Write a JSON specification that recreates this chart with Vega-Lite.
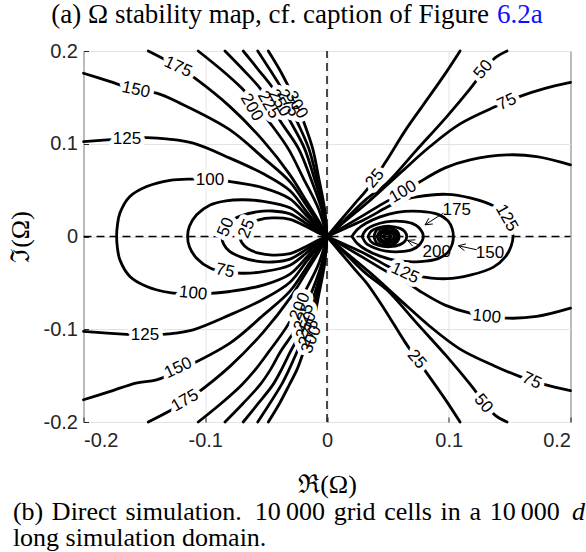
{
  "$schema": "https://vega.github.io/schema/vega-lite/v6.json",
  "width": 487,
  "height": 371,
  "autosize": {"type": "none"},
  "padding": {"left": 83.5, "top": 51, "right": 15.5, "bottom": 130},
  "background": "white",
  "config": {
    "view": {"stroke": "#262626", "strokeWidth": 1},
    "axis": {
      "grid": true, "gridColor": "#e3e3e3", "gridWidth": 1,
      "ticks": true, "tickSize": -5, "tickColor": "#262626", "tickWidth": 1, "domain": false,
      "labelFont": "Liberation Sans", "labelFontSize": 20, "labelColor": "#262626",
      "titleFont": "Liberation Serif, DejaVu Serif", "titleFontSize": 26, "titleFontWeight": "normal", "titleColor": "black"
    }
  },
  "encoding": {
    "x": {"field": "x", "type": "quantitative",
          "scale": {"domain": [-0.2, 0.2], "nice": false, "zero": false},
          "axis": {"values": [-0.2, -0.1, 0, 0.1, 0.2], "labelExpr": "'' + datum.value", "labelPadding": 13, "title": "ℜ(Ω)", "titlePadding": 21}},
    "y": {"field": "y", "type": "quantitative",
          "scale": {"domain": [-0.2, 0.2], "nice": false, "zero": false},
          "axis": {"values": [-0.2, -0.1, 0, 0.1, 0.2], "labelExpr": "'' + datum.value", "labelPadding": 11, "title": "ℑ(Ω)", "titlePadding": 10}}
  },
  "datasets": {
    "zero": [
      {"k": "v", "x": 0, "y": -0.2}, {"k": "v", "x": 0, "y": 0.2},
      {"k": "h", "x": -0.2, "y": 0}, {"k": "h", "x": 0.2, "y": 0}
    ],
    "lines": [
      {"k":"L25","x":0,"y":0},{"k":"L25","x":-0.0074,"y":0.004},{"k":"L25","x":-0.0167,"y":0.0105},{"k":"L25","x":-0.0304,"y":0.0185},{"k":"L25","x":-0.045,"y":0.02},{"k":"L25","x":-0.056,"y":0.018},{"k":"L25","x":-0.065,"y":0.013},{"k":"L25","x":-0.07,"y":0.0065},{"k":"L25","x":-0.0715,"y":0},{"k":"L25","x":-0.07,"y":-0.0065},{"k":"L25","x":-0.065,"y":-0.013},{"k":"L25","x":-0.056,"y":-0.018},{"k":"L25","x":-0.045,"y":-0.02},{"k":"L25","x":-0.0304,"y":-0.0185},{"k":"L25","x":-0.0167,"y":-0.0105},{"k":"L25","x":-0.0074,"y":-0.004},{"k":"L25","x":0,"y":0},

      {"k":"L50","x":0,"y":0},{"k":"L50","x":-0.0074,"y":0.0056},{"k":"L50","x":-0.0167,"y":0.0137},{"k":"L50","x":-0.0304,"y":0.0244},{"k":"L50","x":-0.045,"y":0.0275},{"k":"L50","x":-0.058,"y":0.0265},{"k":"L50","x":-0.07,"y":0.0225},{"k":"L50","x":-0.08,"y":0.016},{"k":"L50","x":-0.085,"y":0.008},{"k":"L50","x":-0.0863,"y":0},{"k":"L50","x":-0.085,"y":-0.008},{"k":"L50","x":-0.08,"y":-0.016},{"k":"L50","x":-0.07,"y":-0.0225},{"k":"L50","x":-0.058,"y":-0.0265},{"k":"L50","x":-0.045,"y":-0.0275},{"k":"L50","x":-0.0304,"y":-0.0244},{"k":"L50","x":-0.0167,"y":-0.0137},{"k":"L50","x":-0.0074,"y":-0.0056},{"k":"L50","x":0,"y":0},

      {"k":"L75","x":0,"y":0},{"k":"L75","x":-0.0074,"y":0.0072},{"k":"L75","x":-0.0167,"y":0.0175},{"k":"L75","x":-0.0304,"y":0.0309},{"k":"L75","x":-0.0523,"y":0.0379},{"k":"L75","x":-0.068,"y":0.0396},{"k":"L75","x":-0.083,"y":0.0385},{"k":"L75","x":-0.096,"y":0.034},{"k":"L75","x":-0.1071,"y":0.0234},{"k":"L75","x":-0.113,"y":0.011},{"k":"L75","x":-0.1145,"y":0},{"k":"L75","x":-0.113,"y":-0.011},{"k":"L75","x":-0.1071,"y":-0.0234},{"k":"L75","x":-0.096,"y":-0.034},{"k":"L75","x":-0.083,"y":-0.0385},{"k":"L75","x":-0.068,"y":-0.0396},{"k":"L75","x":-0.0523,"y":-0.0379},{"k":"L75","x":-0.0304,"y":-0.0309},{"k":"L75","x":-0.0167,"y":-0.0175},{"k":"L75","x":-0.0074,"y":-0.0072},{"k":"L75","x":0,"y":0},

      {"k":"L100","x":0,"y":0},{"k":"L100","x":-0.0074,"y":0.0094},{"k":"L100","x":-0.0167,"y":0.0223},{"k":"L100","x":-0.0304,"y":0.0406},{"k":"L100","x":-0.0523,"y":0.0525},{"k":"L100","x":-0.0797,"y":0.0593},{"k":"L100","x":-0.0961,"y":0.0613},{"k":"L100","x":-0.1126,"y":0.0619},{"k":"L100","x":-0.129,"y":0.0606},{"k":"L100","x":-0.1481,"y":0.0539},{"k":"L100","x":-0.1619,"y":0.0431},{"k":"L100","x":-0.1701,"y":0.0252},{"k":"L100","x":-0.1721,"y":0.0126},{"k":"L100","x":-0.1728,"y":0},{"k":"L100","x":-0.1721,"y":-0.0126},{"k":"L100","x":-0.1701,"y":-0.0252},{"k":"L100","x":-0.1619,"y":-0.0431},{"k":"L100","x":-0.1481,"y":-0.0539},{"k":"L100","x":-0.129,"y":-0.0606},{"k":"L100","x":-0.1126,"y":-0.0619},{"k":"L100","x":-0.0961,"y":-0.0613},{"k":"L100","x":-0.0797,"y":-0.0593},{"k":"L100","x":-0.0523,"y":-0.0525},{"k":"L100","x":-0.0304,"y":-0.0406},{"k":"L100","x":-0.0167,"y":-0.0223},{"k":"L100","x":-0.0074,"y":-0.0094},{"k":"L100","x":0,"y":0},

      {"k":"L125u","x":-0.2,"y":0.1024},{"k":"L125u","x":-0.1646,"y":0.1055},{"k":"L125u","x":-0.1481,"y":0.1065},{"k":"L125u","x":-0.13,"y":0.105},{"k":"L125u","x":-0.1099,"y":0.1006},{"k":"L125u","x":-0.0797,"y":0.0845},{"k":"L125u","x":-0.0523,"y":0.0676},{"k":"L125u","x":-0.0304,"y":0.0493},{"k":"L125u","x":-0.0167,"y":0.0266},{"k":"L125u","x":-0.0074,"y":0.0115},{"k":"L125u","x":0,"y":0},
      {"k":"L125l","x":-0.2,"y":-0.1024},{"k":"L125l","x":-0.1646,"y":-0.1055},{"k":"L125l","x":-0.1481,"y":-0.1065},{"k":"L125l","x":-0.13,"y":-0.105},{"k":"L125l","x":-0.1099,"y":-0.1006},{"k":"L125l","x":-0.0797,"y":-0.0845},{"k":"L125l","x":-0.0523,"y":-0.0676},{"k":"L125l","x":-0.0304,"y":-0.0493},{"k":"L125l","x":-0.0167,"y":-0.0266},{"k":"L125l","x":-0.0074,"y":-0.0115},{"k":"L125l","x":0,"y":0},

      {"k":"L150u","x":-0.2,"y":0.176},{"k":"L150u","x":-0.178,"y":0.167},{"k":"L150u","x":-0.157,"y":0.158},{"k":"L150u","x":-0.14,"y":0.1545},{"k":"L150u","x":-0.1208,"y":0.1438},{"k":"L150u","x":-0.0797,"y":0.115},{"k":"L150u","x":-0.0523,"y":0.0848},{"k":"L150u","x":-0.0304,"y":0.0589},{"k":"L150u","x":-0.0167,"y":0.0331},{"k":"L150u","x":-0.0074,"y":0.0148},{"k":"L150u","x":0,"y":0},
      {"k":"L150l","x":-0.2,"y":-0.176},{"k":"L150l","x":-0.178,"y":-0.167},{"k":"L150l","x":-0.157,"y":-0.158},{"k":"L150l","x":-0.14,"y":-0.1545},{"k":"L150l","x":-0.1208,"y":-0.1438},{"k":"L150l","x":-0.0797,"y":-0.115},{"k":"L150l","x":-0.0523,"y":-0.0848},{"k":"L150l","x":-0.0304,"y":-0.0589},{"k":"L150l","x":-0.0167,"y":-0.0331},{"k":"L150l","x":-0.0074,"y":-0.0148},{"k":"L150l","x":0,"y":0},

      {"k":"L175u","x":-0.1468,"y":0.2},{"k":"L175u","x":-0.1224,"y":0.183},{"k":"L175u","x":-0.1085,"y":0.1707},{"k":"L175u","x":-0.0797,"y":0.14},{"k":"L175u","x":-0.0523,"y":0.1031},{"k":"L175u","x":-0.0304,"y":0.0665},{"k":"L175u","x":-0.0167,"y":0.0377},{"k":"L175u","x":-0.0074,"y":0.018},{"k":"L175u","x":0,"y":0},
      {"k":"L175l","x":-0.1468,"y":-0.2},{"k":"L175l","x":-0.1224,"y":-0.183},{"k":"L175l","x":-0.1085,"y":-0.1707},{"k":"L175l","x":-0.0797,"y":-0.14},{"k":"L175l","x":-0.0523,"y":-0.1031},{"k":"L175l","x":-0.0304,"y":-0.0665},{"k":"L175l","x":-0.0167,"y":-0.0377},{"k":"L175l","x":-0.0074,"y":-0.018},{"k":"L175l","x":0,"y":0},

      {"k":"L200u","x":-0.1058,"y":0.2},{"k":"L200u","x":-0.087,"y":0.18},{"k":"L200u","x":-0.0701,"y":0.16},{"k":"L200u","x":-0.0585,"y":0.143},{"k":"L200u","x":-0.0482,"y":0.125},{"k":"L200u","x":-0.032,"y":0.095},{"k":"L200u","x":-0.0195,"y":0.063},{"k":"L200u","x":-0.007,"y":0.03},{"k":"L200u","x":0,"y":0},
      {"k":"L200l","x":-0.1058,"y":-0.2},{"k":"L200l","x":-0.087,"y":-0.18},{"k":"L200l","x":-0.0701,"y":-0.16},{"k":"L200l","x":-0.0585,"y":-0.143},{"k":"L200l","x":-0.0482,"y":-0.125},{"k":"L200l","x":-0.032,"y":-0.095},{"k":"L200l","x":-0.0195,"y":-0.063},{"k":"L200l","x":-0.007,"y":-0.03},{"k":"L200l","x":0,"y":0},
      {"k":"L225u","x":-0.0838,"y":0.2},{"k":"L225u","x":-0.069,"y":0.18},{"k":"L225u","x":-0.0551,"y":0.16},{"k":"L225u","x":-0.0462,"y":0.143},{"k":"L225u","x":-0.0386,"y":0.125},{"k":"L225u","x":-0.0235,"y":0.095},{"k":"L225u","x":-0.0135,"y":0.063},{"k":"L225u","x":-0.0045,"y":0.03},{"k":"L225u","x":0,"y":0},
      {"k":"L225l","x":-0.0838,"y":-0.2},{"k":"L225l","x":-0.069,"y":-0.18},{"k":"L225l","x":-0.0551,"y":-0.16},{"k":"L225l","x":-0.0462,"y":-0.143},{"k":"L225l","x":-0.0386,"y":-0.125},{"k":"L225l","x":-0.0235,"y":-0.095},{"k":"L225l","x":-0.0135,"y":-0.063},{"k":"L225l","x":-0.0045,"y":-0.03},{"k":"L225l","x":0,"y":0},
      {"k":"L250u","x":-0.0688,"y":0.2},{"k":"L250u","x":-0.0565,"y":0.18},{"k":"L250u","x":-0.0445,"y":0.16},{"k":"L250u","x":-0.0372,"y":0.143},{"k":"L250u","x":-0.0304,"y":0.125},{"k":"L250u","x":-0.0185,"y":0.095},{"k":"L250u","x":-0.0105,"y":0.063},{"k":"L250u","x":-0.0033,"y":0.03},{"k":"L250u","x":0,"y":0},
      {"k":"L250l","x":-0.0688,"y":-0.2},{"k":"L250l","x":-0.0565,"y":-0.18},{"k":"L250l","x":-0.0445,"y":-0.16},{"k":"L250l","x":-0.0372,"y":-0.143},{"k":"L250l","x":-0.0304,"y":-0.125},{"k":"L250l","x":-0.0185,"y":-0.095},{"k":"L250l","x":-0.0105,"y":-0.063},{"k":"L250l","x":-0.0033,"y":-0.03},{"k":"L250l","x":0,"y":0},
      {"k":"L275u","x":-0.0569,"y":0.2},{"k":"L275u","x":-0.047,"y":0.18},{"k":"L275u","x":-0.0375,"y":0.16},{"k":"L275u","x":-0.031,"y":0.143},{"k":"L275u","x":-0.0249,"y":0.125},{"k":"L275u","x":-0.015,"y":0.095},{"k":"L275u","x":-0.0085,"y":0.063},{"k":"L275u","x":-0.0026,"y":0.03},{"k":"L275u","x":0,"y":0},
      {"k":"L275l","x":-0.0569,"y":-0.2},{"k":"L275l","x":-0.047,"y":-0.18},{"k":"L275l","x":-0.0375,"y":-0.16},{"k":"L275l","x":-0.031,"y":-0.143},{"k":"L275l","x":-0.0249,"y":-0.125},{"k":"L275l","x":-0.015,"y":-0.095},{"k":"L275l","x":-0.0085,"y":-0.063},{"k":"L275l","x":-0.0026,"y":-0.03},{"k":"L275l","x":0,"y":0},
      {"k":"L300u","x":-0.0482,"y":0.2},{"k":"L300u","x":-0.039,"y":0.18},{"k":"L300u","x":-0.031,"y":0.16},{"k":"L300u","x":-0.0245,"y":0.143},{"k":"L300u","x":-0.0195,"y":0.125},{"k":"L300u","x":-0.0118,"y":0.095},{"k":"L300u","x":-0.0068,"y":0.063},{"k":"L300u","x":-0.002,"y":0.03},{"k":"L300u","x":0,"y":0},
      {"k":"L300l","x":-0.0482,"y":-0.2},{"k":"L300l","x":-0.039,"y":-0.18},{"k":"L300l","x":-0.031,"y":-0.16},{"k":"L300l","x":-0.0245,"y":-0.143},{"k":"L300l","x":-0.0195,"y":-0.125},{"k":"L300l","x":-0.0118,"y":-0.095},{"k":"L300l","x":-0.0068,"y":-0.063},{"k":"L300l","x":-0.002,"y":-0.03},{"k":"L300l","x":0,"y":0},

      {"k":"R25u","x":0,"y":0},{"k":"R25u","x":0.0107,"y":0.0167},{"k":"R25u","x":0.023,"y":0.0358},{"k":"R25u","x":0.0326,"y":0.0503},{"k":"R25u","x":0.0477,"y":0.0794},{"k":"R25u","x":0.0641,"y":0.1139},{"k":"R25u","x":0.0791,"y":0.1419},{"k":"R25u","x":0.097,"y":0.1753},{"k":"R25u","x":0.1093,"y":0.2},
      {"k":"R25l","x":0,"y":0},{"k":"R25l","x":0.0107,"y":-0.0167},{"k":"R25l","x":0.023,"y":-0.0358},{"k":"R25l","x":0.0326,"y":-0.0503},{"k":"R25l","x":0.0477,"y":-0.0794},{"k":"R25l","x":0.0641,"y":-0.1139},{"k":"R25l","x":0.0791,"y":-0.1419},{"k":"R25l","x":0.097,"y":-0.1753},{"k":"R25l","x":0.1093,"y":-0.2},
      {"k":"R50u","x":0,"y":0},{"k":"R50u","x":0.0148,"y":0.0181},{"k":"R50u","x":0.0312,"y":0.039},{"k":"R50u","x":0.0491,"y":0.0575},{"k":"R50u","x":0.0737,"y":0.0934},{"k":"R50u","x":0.0984,"y":0.1293},{"k":"R50u","x":0.1175,"y":0.1592},{"k":"R50u","x":0.1282,"y":0.1775},{"k":"R50u","x":0.138,"y":0.1926},{"k":"R50u","x":0.1479,"y":0.2},
      {"k":"R50l","x":0,"y":0},{"k":"R50l","x":0.0148,"y":-0.0181},{"k":"R50l","x":0.0312,"y":-0.039},{"k":"R50l","x":0.0491,"y":-0.0575},{"k":"R50l","x":0.0737,"y":-0.0934},{"k":"R50l","x":0.0984,"y":-0.1293},{"k":"R50l","x":0.1175,"y":-0.1592},{"k":"R50l","x":0.1282,"y":-0.1775},{"k":"R50l","x":0.138,"y":-0.1926},{"k":"R50l","x":0.1479,"y":-0.2},
      {"k":"R75u","x":0,"y":0},{"k":"R75u","x":0.0148,"y":0.0164},{"k":"R75u","x":0.0353,"y":0.039},{"k":"R75u","x":0.06,"y":0.0683},{"k":"R75u","x":0.0846,"y":0.097},{"k":"R75u","x":0.1093,"y":0.1214},{"k":"R75u","x":0.138,"y":0.1398},{"k":"R75u","x":0.1586,"y":0.1511},{"k":"R75u","x":0.1791,"y":0.1597},{"k":"R75u","x":0.2,"y":0.1662},
      {"k":"R75l","x":0,"y":0},{"k":"R75l","x":0.0148,"y":-0.0164},{"k":"R75l","x":0.0353,"y":-0.039},{"k":"R75l","x":0.06,"y":-0.0683},{"k":"R75l","x":0.0846,"y":-0.097},{"k":"R75l","x":0.1093,"y":-0.1214},{"k":"R75l","x":0.138,"y":-0.1398},{"k":"R75l","x":0.1586,"y":-0.1511},{"k":"R75l","x":0.1791,"y":-0.1597},{"k":"R75l","x":0.2,"y":-0.1662},
      {"k":"R100u","x":0,"y":0},{"k":"R100u","x":0.0148,"y":0.0112},{"k":"R100u","x":0.0312,"y":0.0239},{"k":"R100u","x":0.0491,"y":0.0379},{"k":"R100u","x":0.0641,"y":0.0482},{"k":"R100u","x":0.0764,"y":0.059},{"k":"R100u","x":0.097,"y":0.074},{"k":"R100u","x":0.1175,"y":0.0826},{"k":"R100u","x":0.1477,"y":0.088},{"k":"R100u","x":0.1723,"y":0.0862},{"k":"R100u","x":0.2,"y":0.0773},
      {"k":"R100l","x":0,"y":0},{"k":"R100l","x":0.0148,"y":-0.0112},{"k":"R100l","x":0.0312,"y":-0.0239},{"k":"R100l","x":0.0491,"y":-0.0379},{"k":"R100l","x":0.0641,"y":-0.0482},{"k":"R100l","x":0.0764,"y":-0.059},{"k":"R100l","x":0.097,"y":-0.074},{"k":"R100l","x":0.1175,"y":-0.0826},{"k":"R100l","x":0.1477,"y":-0.088},{"k":"R100l","x":0.1723,"y":-0.0862},{"k":"R100l","x":0.2,"y":-0.0773},

      {"k":"R125","x":0,"y":0},{"k":"R125","x":0.0148,"y":0.0086},{"k":"R125","x":0.0312,"y":0.0185},{"k":"R125","x":0.0491,"y":0.0315},{"k":"R125","x":0.06,"y":0.0385},{"k":"R125","x":0.0737,"y":0.0428},{"k":"R125","x":0.0984,"y":0.0455},{"k":"R125","x":0.1175,"y":0.0417},{"k":"R125","x":0.1367,"y":0.033},{"k":"R125","x":0.1463,"y":0.0223},{"k":"R125","x":0.1512,"y":0.0105},{"k":"R125","x":0.1528,"y":0},{"k":"R125","x":0.1512,"y":-0.0105},{"k":"R125","x":0.1463,"y":-0.0223},{"k":"R125","x":0.1367,"y":-0.033},{"k":"R125","x":0.1175,"y":-0.0417},{"k":"R125","x":0.0984,"y":-0.0455},{"k":"R125","x":0.0737,"y":-0.0428},{"k":"R125","x":0.06,"y":-0.0385},{"k":"R125","x":0.0491,"y":-0.0315},{"k":"R125","x":0.0312,"y":-0.0185},{"k":"R125","x":0.0148,"y":-0.0086},{"k":"R125","x":0,"y":0},

      {"k":"R150","x":0.0205,"y":0},{"k":"R150","x":0.0247,"y":0.0072},{"k":"R150","x":0.032,"y":0.0142},{"k":"R150","x":0.0436,"y":0.0212},{"k":"R150","x":0.0575,"y":0.0261},{"k":"R150","x":0.0764,"y":0.0271},{"k":"R150","x":0.0912,"y":0.0239},{"k":"R150","x":0.0994,"y":0.0169},{"k":"R150","x":0.1028,"y":0.0085},{"k":"R150","x":0.1038,"y":0},{"k":"R150","x":0.1028,"y":-0.0085},{"k":"R150","x":0.0994,"y":-0.0169},{"k":"R150","x":0.0912,"y":-0.0239},{"k":"R150","x":0.0764,"y":-0.0271},{"k":"R150","x":0.0575,"y":-0.0261},{"k":"R150","x":0.0436,"y":-0.0212},{"k":"R150","x":0.032,"y":-0.0142},{"k":"R150","x":0.0247,"y":-0.0072},{"k":"R150","x":0.0205,"y":0},

      {"k":"R175","x":0.0288,"y":0},{"k":"R175","x":0.0321,"y":0.0072},{"k":"R175","x":0.0386,"y":0.0121},{"k":"R175","x":0.0485,"y":0.0158},{"k":"R175","x":0.06,"y":0.0164},{"k":"R175","x":0.0699,"y":0.0142},{"k":"R175","x":0.0756,"y":0.0094},{"k":"R175","x":0.0791,"y":0},{"k":"R175","x":0.0756,"y":-0.0094},{"k":"R175","x":0.0699,"y":-0.0142},{"k":"R175","x":0.06,"y":-0.0164},{"k":"R175","x":0.0485,"y":-0.0158},{"k":"R175","x":0.0386,"y":-0.0121},{"k":"R175","x":0.0321,"y":-0.0072},{"k":"R175","x":0.0288,"y":0},

      {"k":"R200","x":0.0337,"y":0},{"k":"R200","x":0.0362,"y":0.0056},{"k":"R200","x":0.0419,"y":0.0094},{"k":"R200","x":0.0518,"y":0.011},{"k":"R200","x":0.06,"y":0.0088},{"k":"R200","x":0.0641,"y":0.0051},{"k":"R200","x":0.0655,"y":0},{"k":"R200","x":0.0641,"y":-0.0051},{"k":"R200","x":0.06,"y":-0.0088},{"k":"R200","x":0.0518,"y":-0.011},{"k":"R200","x":0.0419,"y":-0.0094},{"k":"R200","x":0.0362,"y":-0.0056},{"k":"R200","x":0.0337,"y":0},

      {"k":"R225","x":0.0386,"y":0},{"k":"R225","x":0.0411,"y":0.0072},{"k":"R225","x":0.0493,"y":0.0094},{"k":"R225","x":0.0567,"y":0.0067},{"k":"R225","x":0.0592,"y":0},{"k":"R225","x":0.0567,"y":-0.0067},{"k":"R225","x":0.0493,"y":-0.0094},{"k":"R225","x":0.0411,"y":-0.0072},{"k":"R225","x":0.0386,"y":0},
      {"k":"R250","x":0.0411,"y":0},{"k":"R250","x":0.0436,"y":0.0056},{"k":"R250","x":0.0493,"y":0.0067},{"k":"R250","x":0.0551,"y":0.0051},{"k":"R250","x":0.0575,"y":0},{"k":"R250","x":0.0551,"y":-0.0051},{"k":"R250","x":0.0493,"y":-0.0067},{"k":"R250","x":0.0436,"y":-0.0056},{"k":"R250","x":0.0411,"y":0},
      {"k":"R275","x":0.0432,"y":0},{"k":"R275","x":0.0452,"y":0.004},{"k":"R275","x":0.0493,"y":0.0045},{"k":"R275","x":0.0534,"y":0.0034},{"k":"R275","x":0.0555,"y":0},{"k":"R275","x":0.0534,"y":-0.0034},{"k":"R275","x":0.0493,"y":-0.0045},{"k":"R275","x":0.0452,"y":-0.004},{"k":"R275","x":0.0432,"y":0},
      {"k":"R300","x":0.0452,"y":0},{"k":"R300","x":0.0493,"y":0.0027},{"k":"R300","x":0.053,"y":0},{"k":"R300","x":0.0493,"y":-0.0027},{"k":"R300","x":0.0452,"y":0}
    ],
    "labels": [
      {"id":"UL175","t":"175","x":-0.1224,"y":0.1829},
      {"id":"UL150","t":"150","x":-0.1569,"y":0.1581},
      {"id":"UL125","t":"125","x":-0.1643,"y":0.105},
      {"id":"UL100","t":"100","x":-0.0961,"y":0.0605},
      {"id":"UL50","t":"50","x":-0.083,"y":0.01},
      {"id":"UL25","t":"25","x":-0.066,"y":0.0085},
      {"id":"UL200","t":"200","x":-0.0619,"y":0.1392},
      {"id":"UL225","t":"225","x":-0.048,"y":0.142},
      {"id":"UL250","t":"250","x":-0.039,"y":0.144},
      {"id":"UL275","t":"275","x":-0.0318,"y":0.144},
      {"id":"UL300","t":"300","x":-0.025,"y":0.142},
      {"id":"LL75","t":"75","x":-0.0838,"y":-0.037},
      {"id":"LL100","t":"100","x":-0.1099,"y":-0.0612},
      {"id":"LL125","t":"125","x":-0.1495,"y":-0.1065},
      {"id":"LL150","t":"150","x":-0.1222,"y":-0.1418},
      {"id":"LL175","t":"175","x":-0.1167,"y":-0.177},
      {"id":"LL200","t":"200","x":-0.0222,"y":-0.0754},
      {"id":"LL225","t":"225","x":-0.019,"y":-0.087},
      {"id":"LL250","t":"250","x":-0.017,"y":-0.096},
      {"id":"LL275","t":"275","x":-0.015,"y":-0.104},
      {"id":"LL300","t":"300","x":-0.0128,"y":-0.111},
      {"id":"UR25","t":"25","x":0.0394,"y":0.0625},
      {"id":"UR50","t":"50","x":0.1284,"y":0.18},
      {"id":"UR75","t":"75","x":0.1477,"y":0.145},
      {"id":"UR100","t":"100","x":0.0624,"y":0.0482},
      {"id":"UR125","t":"125","x":0.1475,"y":0.02},
      {"id":"LR25","t":"25","x":0.0737,"y":-0.1325},
      {"id":"LR50","t":"50","x":0.1284,"y":-0.18},
      {"id":"LR75","t":"75","x":0.1682,"y":-0.1555},
      {"id":"LR100","t":"100","x":0.1312,"y":-0.0862},
      {"id":"LR125","t":"125","x":0.0641,"y":-0.0395},
      {"id":"UR175","t":"175","x":0.1066,"y":0.0288},
      {"id":"LR150","t":"150","x":0.1339,"y":-0.0179},
      {"id":"LR200","t":"200","x":0.0901,"y":-0.0165}
    ],
    "arrows": [
      {"a":"s175","x":0.0956,"y":0.0252},{"a":"s175","x":0.0805,"y":0.0126},
      {"a":"h175","x":0.0869,"y":0.0135},{"a":"h175","x":0.0805,"y":0.0126},{"a":"h175","x":0.0838,"y":0.0198},
      {"a":"s150","x":0.123,"y":-0.0143},{"a":"s150","x":0.1079,"y":-0.01},
      {"a":"h150","x":0.1141,"y":-0.008},{"a":"h150","x":0.1079,"y":-0.01},{"a":"h150","x":0.1129,"y":-0.0153},
      {"a":"s200","x":0.0764,"y":-0.0095},{"a":"s200","x":0.0661,"y":-0.0041},
      {"a":"h200","x":0.0726,"y":-0.0036},{"a":"h200","x":0.0661,"y":-0.0041},{"a":"h200","x":0.0704,"y":-0.0105}
    ],
    "captions": [
      {"id":"a1","t":"(a) Ω stability map, cf. caption of Figure","x":0.1331,"y":0.2388},
      {"id":"a2","t":"6.2a","x":0.1397,"y":0.2388},
      {"id":"b1","t":"(b)\u2004Direct\u2004simulation.\u200210\u2009000\u2004grid\u2004cells\u2004in\u2004a\u200410\u2009000","x":-0.258,"y":-0.2975},
      {"id":"b1d","t":"d","x":0.2013,"y":-0.2975},
      {"id":"b2","t":"long simulation domain.","x":-0.258,"y":-0.3256}
    ]
  },
  "layer": [
    {"data": {"name": "zero"},
     "mark": {"type": "line", "color": "black", "strokeWidth": 1.4, "strokeDash": [8, 5]},
     "encoding": {"detail": {"field": "k"}, "order": {"value": null}}},
    {"data": {"name": "lines"},
     "mark": {"type": "line", "color": "black", "strokeWidth": 2.8, "interpolate": "catmull-rom", "strokeCap": "round", "strokeJoin": "round"},
     "encoding": {"detail": {"field": "k"}, "order": {"value": null}}},

    {"data": {"name": "labels"}, "transform": [{"filter": {"field": "id", "oneOf": ["UL125", "UL100", "LL125"]}}],
     "mark": {"type": "text", "angle": 0, "font": "Liberation Sans", "fontSize": 17, "fill": "white", "stroke": "white", "strokeWidth": 9, "strokeJoin": "round"},
     "encoding": {"text": {"field": "t"}}},
    {"data": {"name": "labels"}, "transform": [{"filter": {"field": "id", "oneOf": ["LL100", "LR100"]}}],
     "mark": {"type": "text", "angle": 6, "font": "Liberation Sans", "fontSize": 17, "fill": "white", "stroke": "white", "strokeWidth": 9, "strokeJoin": "round"},
     "encoding": {"text": {"field": "t"}}},
    {"data": {"name": "labels"}, "transform": [{"filter": {"field": "id", "oneOf": ["UL150", "LL75"]}}],
     "mark": {"type": "text", "angle": 12, "font": "Liberation Sans", "fontSize": 17, "fill": "white", "stroke": "white", "strokeWidth": 9, "strokeJoin": "round"},
     "encoding": {"text": {"field": "t"}}},
    {"data": {"name": "labels"}, "transform": [{"filter": {"field": "id", "oneOf": ["UL175", "LR75", "LR125"]}}],
     "mark": {"type": "text", "angle": 25, "font": "Liberation Sans", "fontSize": 17, "fill": "white", "stroke": "white", "strokeWidth": 9, "strokeJoin": "round"},
     "encoding": {"text": {"field": "t"}}},
    {"data": {"name": "labels"}, "transform": [{"filter": {"field": "id", "oneOf": ["UR75", "LL150"]}}],
     "mark": {"type": "text", "angle": -25, "font": "Liberation Sans", "fontSize": 17, "fill": "white", "stroke": "white", "strokeWidth": 9, "strokeJoin": "round"},
     "encoding": {"text": {"field": "t"}}},
    {"data": {"name": "labels"}, "transform": [{"filter": {"field": "id", "oneOf": ["LL175", "UR100"]}}],
     "mark": {"type": "text", "angle": -30, "font": "Liberation Sans", "fontSize": 17, "fill": "white", "stroke": "white", "strokeWidth": 9, "strokeJoin": "round"},
     "encoding": {"text": {"field": "t"}}},
    {"data": {"name": "labels"}, "transform": [{"filter": {"field": "id", "oneOf": ["UR25", "UR50"]}}],
     "mark": {"type": "text", "angle": -50, "font": "Liberation Sans", "fontSize": 17, "fill": "white", "stroke": "white", "strokeWidth": 9, "strokeJoin": "round"},
     "encoding": {"text": {"field": "t"}}},
    {"data": {"name": "labels"}, "transform": [{"filter": {"field": "id", "oneOf": ["LR25", "LR50"]}}],
     "mark": {"type": "text", "angle": 50, "font": "Liberation Sans", "fontSize": 17, "fill": "white", "stroke": "white", "strokeWidth": 9, "strokeJoin": "round"},
     "encoding": {"text": {"field": "t"}}},
    {"data": {"name": "labels"}, "transform": [{"filter": {"field": "id", "oneOf": ["UL200", "UL225", "UL250", "UL275", "UL300", "UR125"]}}],
     "mark": {"type": "text", "angle": 60, "font": "Liberation Sans", "fontSize": 17, "fill": "white", "stroke": "white", "strokeWidth": 9, "strokeJoin": "round"},
     "encoding": {"text": {"field": "t"}}},
    {"data": {"name": "labels"}, "transform": [{"filter": {"field": "id", "oneOf": ["UL50", "UL25", "LL200", "LL225", "LL250", "LL275", "LL300"]}}],
     "mark": {"type": "text", "angle": -68, "font": "Liberation Sans", "fontSize": 17, "fill": "white", "stroke": "white", "strokeWidth": 9, "strokeJoin": "round"},
     "encoding": {"text": {"field": "t"}}},

    {"data": {"name": "labels"}, "transform": [{"filter": {"field": "id", "oneOf": ["UL125", "UL100", "LL125", "UR175", "LR150", "LR200"]}}],
     "mark": {"type": "text", "angle": 0, "font": "Liberation Sans", "fontSize": 17, "fill": "black"},
     "encoding": {"text": {"field": "t"}}},
    {"data": {"name": "labels"}, "transform": [{"filter": {"field": "id", "oneOf": ["LL100", "LR100"]}}],
     "mark": {"type": "text", "angle": 6, "font": "Liberation Sans", "fontSize": 17, "fill": "black"},
     "encoding": {"text": {"field": "t"}}},
    {"data": {"name": "labels"}, "transform": [{"filter": {"field": "id", "oneOf": ["UL150", "LL75"]}}],
     "mark": {"type": "text", "angle": 12, "font": "Liberation Sans", "fontSize": 17, "fill": "black"},
     "encoding": {"text": {"field": "t"}}},
    {"data": {"name": "labels"}, "transform": [{"filter": {"field": "id", "oneOf": ["UL175", "LR75", "LR125"]}}],
     "mark": {"type": "text", "angle": 25, "font": "Liberation Sans", "fontSize": 17, "fill": "black"},
     "encoding": {"text": {"field": "t"}}},
    {"data": {"name": "labels"}, "transform": [{"filter": {"field": "id", "oneOf": ["UR75", "LL150"]}}],
     "mark": {"type": "text", "angle": -25, "font": "Liberation Sans", "fontSize": 17, "fill": "black"},
     "encoding": {"text": {"field": "t"}}},
    {"data": {"name": "labels"}, "transform": [{"filter": {"field": "id", "oneOf": ["LL175", "UR100"]}}],
     "mark": {"type": "text", "angle": -30, "font": "Liberation Sans", "fontSize": 17, "fill": "black"},
     "encoding": {"text": {"field": "t"}}},
    {"data": {"name": "labels"}, "transform": [{"filter": {"field": "id", "oneOf": ["UR25", "UR50"]}}],
     "mark": {"type": "text", "angle": -50, "font": "Liberation Sans", "fontSize": 17, "fill": "black"},
     "encoding": {"text": {"field": "t"}}},
    {"data": {"name": "labels"}, "transform": [{"filter": {"field": "id", "oneOf": ["LR25", "LR50"]}}],
     "mark": {"type": "text", "angle": 50, "font": "Liberation Sans", "fontSize": 17, "fill": "black"},
     "encoding": {"text": {"field": "t"}}},
    {"data": {"name": "labels"}, "transform": [{"filter": {"field": "id", "oneOf": ["UL200", "UL225", "UL250", "UL275", "UL300", "UR125"]}}],
     "mark": {"type": "text", "angle": 60, "font": "Liberation Sans", "fontSize": 17, "fill": "black"},
     "encoding": {"text": {"field": "t"}}},
    {"data": {"name": "labels"}, "transform": [{"filter": {"field": "id", "oneOf": ["UL50", "UL25", "LL200", "LL225", "LL250", "LL275", "LL300"]}}],
     "mark": {"type": "text", "angle": -68, "font": "Liberation Sans", "fontSize": 17, "fill": "black"},
     "encoding": {"text": {"field": "t"}}},

    {"data": {"name": "arrows"},
     "mark": {"type": "line", "color": "black", "strokeWidth": 1},
     "encoding": {"detail": {"field": "a"}, "order": {"value": null}}},

    {"data": {"name": "captions"}, "transform": [{"filter": {"field": "id", "equal": "a1"}}],
     "mark": {"type": "text", "align": "right", "baseline": "middle", "font": "Liberation Serif", "fontSize": 27, "fill": "black"},
     "encoding": {"text": {"field": "t"}}},
    {"data": {"name": "captions"}, "transform": [{"filter": {"field": "id", "equal": "a2"}}],
     "mark": {"type": "text", "align": "left", "baseline": "middle", "font": "Liberation Serif", "fontSize": 27, "fill": "#1010ff"},
     "encoding": {"text": {"field": "t"}}},
    {"data": {"name": "captions"}, "transform": [{"filter": {"field": "id", "oneOf": ["b1", "b2"]}}],
     "mark": {"type": "text", "align": "left", "baseline": "middle", "font": "Liberation Serif", "fontSize": 26, "fill": "black"},
     "encoding": {"text": {"field": "t"}}},
    {"data": {"name": "captions"}, "transform": [{"filter": {"field": "id", "equal": "b1d"}}],
     "mark": {"type": "text", "align": "left", "baseline": "middle", "font": "Liberation Serif", "fontSize": 26, "fontStyle": "italic", "fill": "black"},
     "encoding": {"text": {"field": "t"}}}
  ]
}
